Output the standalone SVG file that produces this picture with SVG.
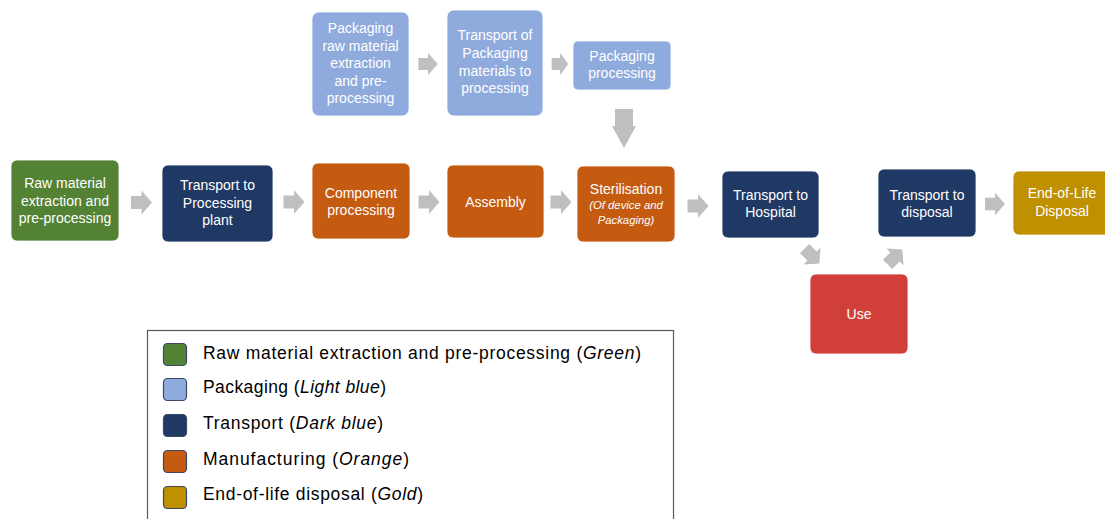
<svg xmlns="http://www.w3.org/2000/svg" xmlns:xlink="http://www.w3.org/1999/xlink" width="1105" height="519" viewBox="0 0 1105 519">
<style>
.n{stroke:#ffffff;stroke-width:0.8}
.green{fill:#548235}.lblue{fill:#8FAADC}.dblue{fill:#1F3864}.orange{fill:#C55A11}.gold{fill:#BF9000}.red{fill:#D13F3B}
.t{font-family:"Liberation Sans",Arial,sans-serif;font-size:14px;fill:#ffffff;text-anchor:middle}
.ti{font-family:"Liberation Sans",Arial,sans-serif;font-size:11.3px;font-style:italic;fill:#ffffff;text-anchor:middle}
.arr{fill:#BFBFBF}
.lg{font-family:"Liberation Sans",Arial,sans-serif;font-size:17.5px;fill:#000000}
.sw{stroke:#3A4A66;stroke-width:1.2}
</style>
<defs>
<path id="arw" d="M-10.5,-6.5 H0 V-12 L10.5,0 L0,12 V6.5 H-10.5 Z"/>
</defs>
<rect width="1105" height="519" fill="#ffffff"/>

<g id="connectors" class="arr">
<use xlink:href="#arw" href="#arw" transform="translate(141.5,202.5)"/>
<use xlink:href="#arw" href="#arw" transform="translate(294,202)"/>
<use xlink:href="#arw" href="#arw" transform="translate(429,202)"/>
<use xlink:href="#arw" href="#arw" transform="translate(561,202)"/>
<use xlink:href="#arw" href="#arw" transform="translate(698,206)"/>
<use xlink:href="#arw" href="#arw" transform="translate(812,256) rotate(45)"/>
<use xlink:href="#arw" href="#arw" transform="translate(895,257) rotate(-45)"/>
<use xlink:href="#arw" href="#arw" transform="translate(995,204) scale(0.95)"/>
<use xlink:href="#arw" href="#arw" transform="translate(428,64) scale(0.92)"/>
<use xlink:href="#arw" href="#arw" transform="translate(560,64) scale(0.8,0.92)"/>
<path d="M615,109 H633 V126 H636 L624,148 L612,126 H615 Z"/>
</g>

<g id="n-pack-raw">
<rect class="n lblue" x="312" y="12" width="97" height="104" rx="7"/>
<text class="t" x="360.5" y="33">Packaging</text>
<text class="t" x="360.5" y="50.5">raw material</text>
<text class="t" x="360.5" y="68">extraction</text>
<text class="t" x="360.5" y="85.5">and pre-</text>
<text class="t" x="360.5" y="103">processing</text>
</g>
<g id="n-pack-transport">
<rect class="n lblue" x="447" y="10" width="96" height="106" rx="7"/>
<text class="t" x="495" y="40">Transport of</text>
<text class="t" x="495" y="58">Packaging</text>
<text class="t" x="495" y="76">materials to</text>
<text class="t" x="495" y="93">processing</text>
</g>
<g id="n-pack-proc">
<rect class="n lblue" x="573" y="41" width="98" height="49" rx="5"/>
<text class="t" x="622" y="61">Packaging</text>
<text class="t" x="622" y="78">processing</text>
</g>

<g id="n-raw">
<rect class="n green" x="11" y="160" width="108" height="81" rx="6"/>
<text class="t" x="65" y="188">Raw material</text>
<text class="t" x="65" y="206">extraction and</text>
<text class="t" x="65" y="223">pre-processing</text>
</g>
<g id="n-transport-plant">
<rect class="n dblue" x="162" y="165" width="111" height="77" rx="6"/>
<text class="t" x="217.5" y="190">Transport to</text>
<text class="t" x="217.5" y="208">Processing</text>
<text class="t" x="217.5" y="225">plant</text>
</g>
<g id="n-component">
<rect class="n orange" x="312" y="163" width="98" height="76" rx="6"/>
<text class="t" x="361" y="198">Component</text>
<text class="t" x="361" y="215">processing</text>
</g>
<g id="n-assembly">
<rect class="n orange" x="447" y="165" width="97" height="73" rx="6"/>
<text class="t" x="495.5" y="207">Assembly</text>
</g>
<g id="n-steril">
<rect class="n orange" x="577" y="166" width="98" height="76" rx="6"/>
<text class="t" x="626" y="194">Sterilisation</text>
<text class="ti" x="626" y="209">(Of device and</text>
<text class="ti" x="626" y="224">Packaging)</text>
</g>
<g id="n-transport-hosp">
<rect class="n dblue" x="722" y="171" width="97" height="67" rx="6"/>
<text class="t" x="770.5" y="200">Transport to</text>
<text class="t" x="770.5" y="217">Hospital</text>
</g>
<g id="n-use">
<rect class="n red" x="810" y="274" width="98" height="80" rx="6"/>
<text class="t" x="859" y="319">Use</text>
</g>
<g id="n-transport-disp">
<rect class="n dblue" x="878" y="169" width="98" height="68" rx="6"/>
<text class="t" x="927" y="200">Transport to</text>
<text class="t" x="927" y="217">disposal</text>
</g>
<g id="n-eol">
<rect class="n gold" x="1013" y="171" width="98" height="64" rx="6"/>
<text class="t" x="1062" y="198">End-of-Life</text>
<text class="t" x="1062" y="216">Disposal</text>
</g>

<g id="legend">
<rect x="147.5" y="330.5" width="526" height="200" fill="#ffffff" stroke="#595959" stroke-width="1.2"/>
<rect class="sw green" x="163.5" y="343.5" width="23" height="22" rx="4"/>
<rect class="sw lblue" x="163.5" y="378.5" width="23" height="22" rx="4"/>
<rect class="sw dblue" x="163.5" y="414.5" width="23" height="22" rx="4"/>
<rect class="sw orange" x="163.5" y="450.5" width="23" height="22" rx="4"/>
<rect class="sw gold" x="163.5" y="486.5" width="23" height="22" rx="4"/>
<text class="lg" x="203" y="359" textLength="438" lengthAdjust="spacing">Raw material extraction and pre-processing (<tspan font-style="italic">Green</tspan>)</text>
<text class="lg" x="203" y="393" textLength="183" lengthAdjust="spacing">Packaging (<tspan font-style="italic">Light blue</tspan>)</text>
<text class="lg" x="203" y="429" textLength="180" lengthAdjust="spacing">Transport (<tspan font-style="italic">Dark blue</tspan>)</text>
<text class="lg" x="203" y="465" textLength="206" lengthAdjust="spacing">Manufacturing (<tspan font-style="italic">Orange</tspan>)</text>
<text class="lg" x="203" y="500" textLength="220" lengthAdjust="spacing">End-of-life disposal (<tspan font-style="italic">Gold</tspan>)</text>
</g>
</svg>
